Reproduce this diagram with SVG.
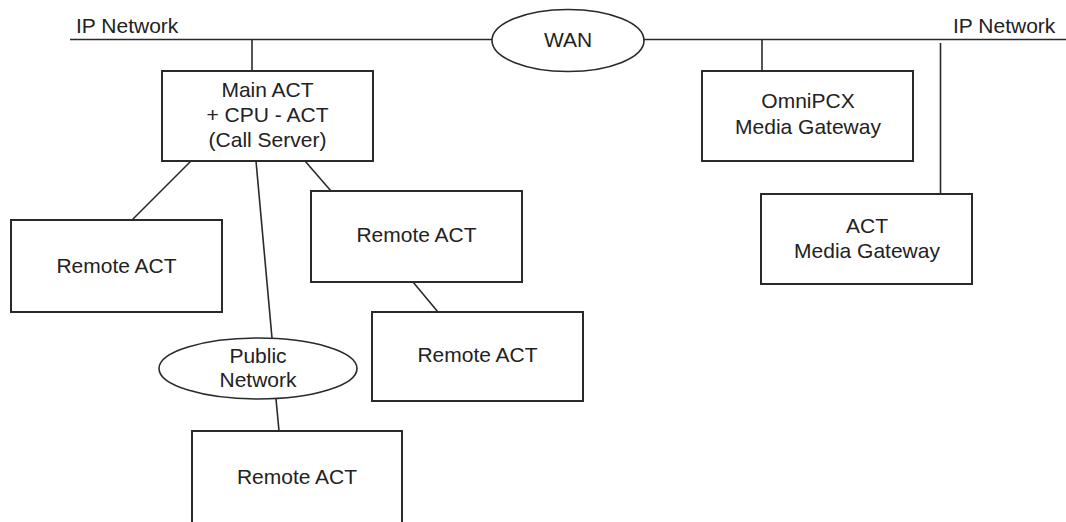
<svg xmlns="http://www.w3.org/2000/svg" width="1066" height="522" viewBox="0 0 1066 522">
<style>
.box{fill:#fff;stroke:#2a2a2a;stroke-width:2}
.ell{fill:#fff;stroke:#2a2a2a;stroke-width:1.6}
.ln{stroke:#2a2a2a;stroke-width:1.6;fill:none}
text{font-family:"Liberation Sans",Arial,sans-serif;font-size:21px;fill:#222}
.c{text-anchor:middle}
</style>
<rect width="1066" height="522" fill="#fff"/>
<g id="connectors">
<line class="ln" x1="70" y1="39.5" x2="1066" y2="39.5"/>
<line class="ln" x1="252" y1="39.5" x2="252" y2="71"/>
<line class="ln" x1="762" y1="39.5" x2="762" y2="71"/>
<line class="ln" x1="940.5" y1="43" x2="940.5" y2="194"/>
<line class="ln" x1="191" y1="161" x2="132" y2="220"/>
<line class="ln" x1="256" y1="161" x2="272" y2="338"/>
<line class="ln" x1="305" y1="161" x2="331" y2="191"/>
<line class="ln" x1="413" y1="282" x2="438" y2="312"/>
<line class="ln" x1="276" y1="399" x2="279" y2="431"/>
</g>
<g id="label-ip-left"><text x="76" y="33">IP Network</text></g>
<g id="label-ip-right"><text x="953" y="33">IP Network</text></g>
<g id="wan">
<ellipse class="ell" cx="568" cy="40.5" rx="76" ry="31"/>
<text class="c" x="568" y="47">WAN</text>
</g>
<g id="main-act">
<rect class="box" x="162" y="71" width="211" height="90"/>
<text class="c" x="267.5" y="97">Main ACT</text>
<text class="c" x="267.5" y="122">+ CPU - ACT</text>
<text class="c" x="267.5" y="147">(Call Server)</text>
</g>
<g id="omnipcx-mg">
<rect class="box" x="702" y="71" width="211" height="90"/>
<text class="c" x="808" y="108">OmniPCX</text>
<text class="c" x="808" y="134">Media Gateway</text>
</g>
<g id="act-mg">
<rect class="box" x="761" y="194" width="211" height="90"/>
<text class="c" x="867" y="233">ACT</text>
<text class="c" x="867" y="258">Media Gateway</text>
</g>
<g id="remote-act-1">
<rect class="box" x="11" y="220" width="211" height="92"/>
<text class="c" x="116.5" y="273">Remote ACT</text>
</g>
<g id="remote-act-2">
<rect class="box" x="311" y="191" width="211" height="91"/>
<text class="c" x="416.5" y="242">Remote ACT</text>
</g>
<g id="remote-act-3">
<rect class="box" x="372" y="312" width="211" height="89"/>
<text class="c" x="477.5" y="362">Remote ACT</text>
</g>
<g id="public-network">
<ellipse class="ell" cx="258" cy="368.5" rx="99" ry="30.5"/>
<text class="c" x="258" y="363">Public</text>
<text class="c" x="258" y="387">Network</text>
</g>
<g id="remote-act-4">
<rect class="box" x="192" y="431" width="210" height="94"/>
<text class="c" x="297" y="484">Remote ACT</text>
</g>
</svg>
